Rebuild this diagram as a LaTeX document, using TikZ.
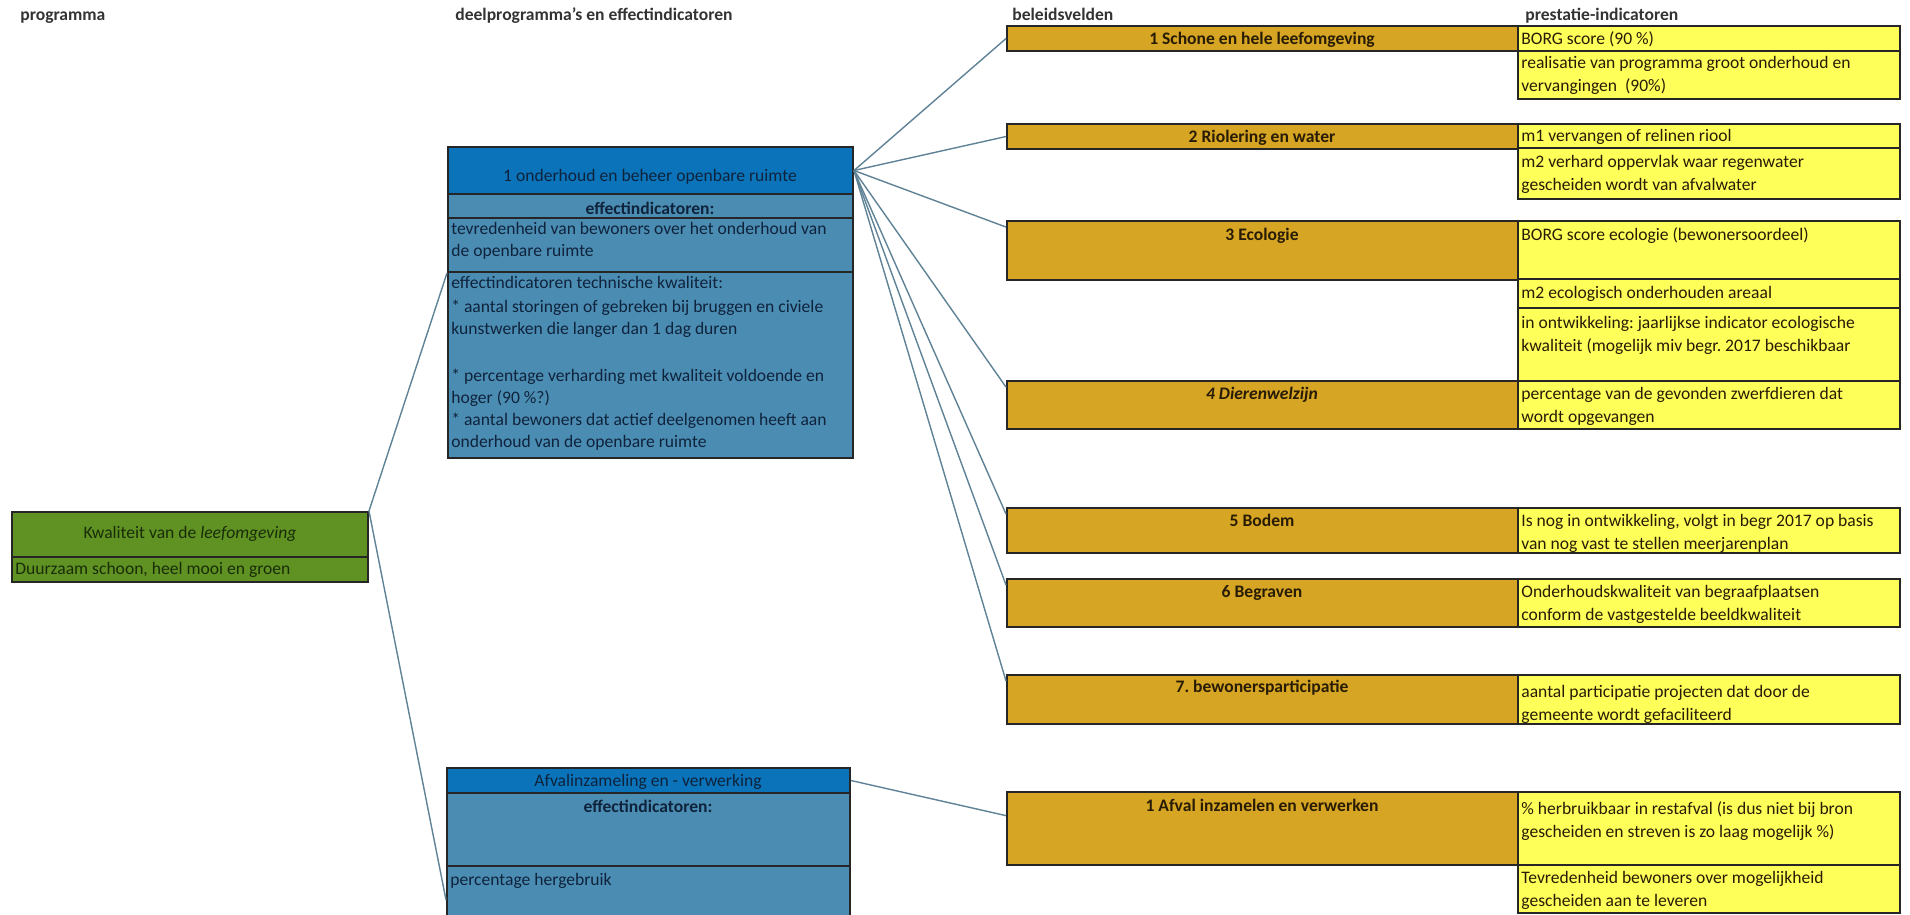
\documentclass[tikz,border=0pt]{standalone}
\usepackage{fontspec}
\setmainfont{Carlito}
\usetikzlibrary{fit, positioning}
\frenchspacing

\definecolor{groen}{RGB}{95,145,35}
\definecolor{groentekst}{RGB}{25,45,8}
\definecolor{blauwkop}{RGB}{10,115,185}
\definecolor{blauw}{RGB}{75,140,178}
\definecolor{blauwtekst}{RGB}{15,35,60}
\definecolor{oker}{RGB}{214,165,35}
\definecolor{geel}{RGB}{255,255,90}
\definecolor{bruintekst}{RGB}{40,28,5}
\definecolor{lijn}{RGB}{95,130,150}

\tikzset{
  cel/.style={draw=black!85, line width=1.1pt, inner sep=0pt},
  groencel/.style={cel, fill=groen},
  kopcel/.style={cel, fill=blauwkop},
  blauwcel/.style={cel, fill=blauw},
  okercel/.style={cel, fill=oker},
  geelcel/.style={cel, fill=geel},
  kolom/.style={anchor=base west, inner sep=0pt, text=black!80, font=\bfseries\fontsize{10}{12}\selectfont},
  titel/.style={anchor=base, inner sep=0pt, font=\fontsize{10}{12}\selectfont},
  regel/.style={anchor=base west, inner sep=0pt, font=\fontsize{10}{12}\selectfont},
  tekst/.style={anchor=north west, inner sep=0pt, align=left, font=\fontsize{10}{13.2}\selectfont},
  blauwtekstblok/.style={tekst, text=blauwtekst, font=\fontsize{10}{12.4}\selectfont},
  verbinding/.style={draw=lijn, line width=0.8pt},
}

\begin{document}
\begin{tikzpicture}[x=0.02cm, y=-0.02cm]
\useasboundingbox (0,0) rectangle (1910,914);
\clip (0,0) rectangle (1910,914);

% column heads
\node[kolom] (kopprogramma) at (20,20) {programma};
\node[kolom] (kopdeel) at (455,20) {deelprogramma's en effectindicatoren};
\node[kolom] (kopvelden) at (1012,20) {beleidsvelden};
\node[kolom] (kopprestatie) at (1525,20) {prestatie-indicatoren};

% programma
\node[groencel, fit={(12,512) (368,557)}] (kwaliteit) {};
\node[groencel, fit={(12,557) (368,582)}] (kwaliteitdoel) {};
\node[titel, text=groentekst] at (190,538) {Kwaliteit van de \textit{leefomgeving}};
\node[regel, text=groentekst] at (15,574) {Duurzaam schoon, heel mooi en groen};

% deelprogramma 1
\node[kopcel, fit={(448,147) (853,194)}] (onderhoud) {};
\node[blauwcel, fit={(448,194) (853,218)}] (onderhoudeffect) {};
\node[blauwcel, fit={(448,218) (853,272)}] (tevredenheid) {};
\node[blauwcel, fit={(448,272) (853,458)}] (techniek) {};
\node[titel, text=blauwtekst] at (650,181) {1 onderhoud en beheer openbare ruimte};
\node[titel, text=blauwtekst, font=\bfseries\fontsize{10}{12}\selectfont] at (650,214) {effectindicatoren:};
\node[blauwtekstblok] at (451,222) {tevredenheid van bewoners over het onderhoud van\\de openbare ruimte};
\node[regel, text=blauwtekst] at (451,288) {effectindicatoren technische kwaliteit:};
\node[blauwtekstblok] at (451,300) {* aantal storingen of gebreken bij bruggen en civiele\\kunstwerken die langer dan 1 dag duren};
\node[blauwtekstblok] at (451,369) {* percentage verharding met kwaliteit voldoende en\\hoger (90 \%?)\\* aantal bewoners dat actief deelgenomen heeft aan\\onderhoud van de openbare ruimte};

% deelprogramma 2
\node[kopcel, fit={(447,768) (850,793)}] (afval) {};
\node[blauwcel, fit={(447,793) (850,866)}] (afvaleffect) {};
\node[blauwcel, fit={(447,866) (850,934)}] (hergebruik) {};
\node[titel, text=blauwtekst] at (648,786) {Afvalinzameling en - verwerking};
\node[titel, text=blauwtekst, font=\bfseries\fontsize{10}{12}\selectfont] at (648,812) {effectindicatoren:};
\node[regel, text=blauwtekst] at (450,885) {percentage hergebruik};

% beleidsvelden
\node[okercel, fit={(1007,26) (1518,51)}] (schoon) {};
\node[okercel, fit={(1007,124) (1518,149)}] (riolering) {};
\node[okercel, fit={(1007,221) (1518,280)}] (ecologie) {};
\node[okercel, fit={(1007,381) (1518,429)}] (dieren) {};
\node[okercel, fit={(1007,508) (1518,553)}] (bodem) {};
\node[okercel, fit={(1007,579) (1518,627)}] (begraven) {};
\node[okercel, fit={(1007,675) (1518,724)}] (participatie) {};
\node[okercel, fit={(1007,792) (1518,865)}] (inzamelen) {};

\node[titel, text=bruintekst, font=\bfseries\fontsize{10}{12}\selectfont] at (1262,44) {1 Schone en hele leefomgeving};
\node[titel, text=bruintekst, font=\bfseries\fontsize{10}{12}\selectfont] at (1262,142) {2 Riolering en water};
\node[titel, text=bruintekst, font=\bfseries\fontsize{10}{12}\selectfont] at (1262,240) {3 Ecologie};
\node[titel, text=bruintekst, font=\bfseries\itshape\fontsize{10}{12}\selectfont] at (1262,399) {4 Dierenwelzijn};
\node[titel, text=bruintekst, font=\bfseries\fontsize{10}{12}\selectfont] at (1262,526) {5 Bodem};
\node[titel, text=bruintekst, font=\bfseries\fontsize{10}{12}\selectfont] at (1262,597) {6 Begraven};
\node[titel, text=bruintekst, font=\bfseries\fontsize{10}{12}\selectfont] at (1262,692) {7. bewonersparticipatie};
\node[titel, text=bruintekst, font=\bfseries\fontsize{10}{12}\selectfont] at (1262,811) {1 Afval inzamelen en verwerken};

% prestatie-indicatoren
\node[geelcel, fit={(1518,26) (1900,51)}] (borg) {};
\node[geelcel, fit={(1518,51) (1900,99)}] (realisatie) {};
\node[geelcel, fit={(1518,124) (1900,148)}] (relinen) {};
\node[geelcel, fit={(1518,148) (1900,199)}] (verhard) {};
\node[geelcel, fit={(1518,221) (1900,279)}] (borgecologie) {};
\node[geelcel, fit={(1518,279) (1900,308)}] (areaal) {};
\node[geelcel, fit={(1518,308) (1900,381)}] (jaarlijks) {};
\node[geelcel, fit={(1518,381) (1900,429)}] (zwerfdieren) {};
\node[geelcel, fit={(1518,508) (1900,553)}] (meerjarenplan) {};
\node[geelcel, fit={(1518,579) (1900,627)}] (beeldkwaliteit) {};
\node[geelcel, fit={(1518,675) (1900,724)}] (projecten) {};
\node[geelcel, fit={(1518,792) (1900,865)}] (restafval) {};
\node[geelcel, fit={(1518,865) (1900,913)}] (scheiden) {};

\node[regel, text=bruintekst] at (1521,44) {BORG score (90 \%)};
\node[tekst, text=bruintekst] at (1521,56) {realisatie van programma groot onderhoud en\\vervangingen~~(90\%)};
\node[regel, text=bruintekst] at (1521,141) {m1 vervangen of relinen riool};
\node[tekst, text=bruintekst] at (1521,155) {m2 verhard oppervlak waar regenwater\\gescheiden wordt van afvalwater};
\node[regel, text=bruintekst] at (1521,240) {BORG score ecologie (bewonersoordeel)};
\node[regel, text=bruintekst] at (1521,298) {m2 ecologisch onderhouden areaal};
\node[tekst, text=bruintekst] at (1521,316) {in ontwikkeling: jaarlijkse indicator ecologische\\kwaliteit (mogelijk miv begr. 2017 beschikbaar};
\node[tekst, text=bruintekst] at (1521,387) {percentage van de gevonden zwerfdieren dat\\wordt opgevangen};
\node[tekst, text=bruintekst] at (1521,514) {Is nog in ontwikkeling, volgt in begr 2017 op basis\\van nog vast te stellen meerjarenplan};
\node[tekst, text=bruintekst] at (1521,585) {Onderhoudskwaliteit van begraafplaatsen\\conform de vastgestelde beeldkwaliteit};
\node[tekst, text=bruintekst] at (1521,685) {aantal participatie projecten dat door de\\gemeente wordt gefaciliteerd};
\node[tekst, text=bruintekst] at (1521,801) {\% herbruikbaar in restafval (is dus niet bij bron\\gescheiden en streven is zo laag mogelijk \%)};
\node[tekst, text=bruintekst] at (1521,871) {Tevredenheid bewoners over mogelijkheid\\gescheiden aan te leveren};

% connectors
\draw[verbinding] (kwaliteit.north east) -- (tevredenheid.south west);
\draw[verbinding] (kwaliteit.north east) -- (hergebruik.west);
\draw[verbinding] (onderhoud.east) -- (schoon.west);
\draw[verbinding] (onderhoud.east) -- (riolering.west);
\draw[verbinding] (onderhoud.east) -- ([yshift=-4pt]ecologie.north west);
\draw[verbinding] (onderhoud.east) -- ([yshift=-4pt]dieren.north west);
\draw[verbinding] (onderhoud.east) -- ([yshift=-4pt]bodem.north west);
\draw[verbinding] (onderhoud.east) -- ([yshift=-4pt]begraven.north west);
\draw[verbinding] (onderhoud.east) -- ([yshift=-4pt]participatie.north west);
\draw[verbinding] (afval.east) -- ([yshift=-14pt]inzamelen.north west);

\end{tikzpicture}
\end{document}
